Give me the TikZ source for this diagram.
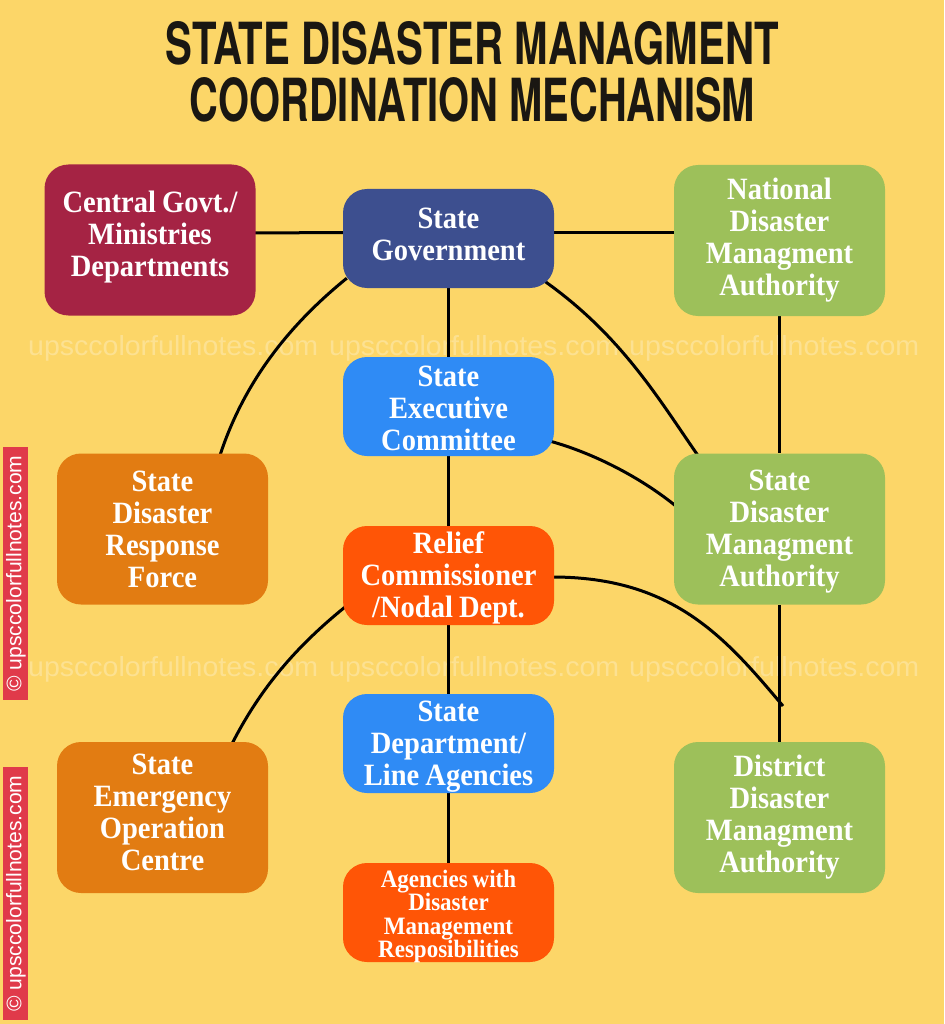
\documentclass[tikz,border=0pt]{standalone}
\usepackage{fontspec}
\usepackage{graphicx}
\newfontfamily\boxfont[FakeStretch=0.92]{Liberation Serif}
\newfontfamily\titlefont{TeX Gyre Heros}
\newfontfamily\wmfont{Liberation Sans}
\usetikzlibrary{calc}
\pgfdeclarelayer{back}
\pgfdeclarelayer{lines}
\pgfsetlayers{back,lines,main}
\definecolor{bgyellow}{HTML}{FCD668}
\definecolor{crimson}{HTML}{A52344}
\definecolor{navy}{HTML}{3D4F8F}
\definecolor{olive}{HTML}{9DC05A}
\definecolor{skyblue}{HTML}{2F8BF5}
\definecolor{amber}{HTML}{E27C12}
\definecolor{redorange}{HTML}{FF5506}
\definecolor{stripred}{HTML}{E03A4A}
\definecolor{titleink}{HTML}{1A1712}
\newcommand{\liftby}[2]{\raisebox{#1}[\height][\depth]{\parbox{205pt}{\centering\spaceskip=0.2em\relax #2}}}
\begin{document}
\begin{tikzpicture}[x=1pt,y=-1pt,
  box/.style={rectangle, rounded corners=24pt, minimum width=211pt, text width=205pt,
    align=center, inner sep=0pt, text=white,
    font=\boxfont\bfseries\fontsize{31}{32}\selectfont},
  shortbox/.style={box, minimum height=99pt},
  tallbox/.style={box, minimum height=151pt},
  smalltext/.style={font=\boxfont\bfseries\fontsize{25}{23.5}\selectfont},
  conn/.style={line width=3pt, black},
  wmark/.style={anchor=base west, inner sep=0pt, text=white, text opacity=0.28},
  strip/.style={fill=stripred, draw=none},
  striptext/.style={rotate=90, inner sep=0pt, text=white}
]
\useasboundingbox (0,0) rectangle (944,1024);
\begin{pgfonlayer}{back}
  \fill[bgyellow] (0,0) rectangle (944,1024);
  \foreach \yy in {355,676}{
    \foreach \xx in {28,329,629}{
      \node[wmark] at (\xx,\yy) {\resizebox{290pt}{20pt}{\wmfont upsccolorfullnotes.com}};
    }
  }
\end{pgfonlayer}

% title
\node[inner sep=0pt, text=titleink] (t1) at (472,43.5) {\resizebox{613pt}{43pt}{\titlefont\bfseries STATE DISASTER MANAGMENT}};
\node[inner sep=0pt, text=titleink] (t2) at (472.5,100) {\resizebox{565pt}{44pt}{\titlefont\bfseries COORDINATION MECHANISM}};

% boxes
\node[tallbox, fill=crimson] (cg) at (150,240) {\liftby{3pt}{Central Govt./\\Ministries\\Departments}};
\node[shortbox, fill=navy] (sg) at (448.5,238.5) {\liftby{4pt}{State\\Government}};
\node[tallbox, fill=olive] (nd) at (779.5,240.5) {\liftby{0pt}{National\\Disaster\\Managment\\Authority}};
\node[shortbox, fill=skyblue] (sec) at (448.5,406.5) {\liftby{-2pt}{State\\Executive\\Committee}};
\node[tallbox, fill=amber] (sdrf) at (162.5,529) {\liftby{0pt}{State\\Disaster\\Response\\Force}};
\node[tallbox, fill=olive] (sdma) at (779.5,529) {\liftby{-3pt}{State\\Disaster\\Managment\\Authority}};
\node[shortbox, fill=redorange] (rc) at (448.5,575.5) {\liftby{-2pt}{Relief\\Commissioner\\/Nodal Dept.}};
\node[shortbox, fill=skyblue] (sd) at (448.5,743.5) {\liftby{-3pt}{State\\Department/\\Line Agencies}};
\node[tallbox, fill=amber] (seoc) at (162.5,817.5) {\liftby{5pt}{State\\Emergency\\Operation\\Centre}};
\node[tallbox, fill=olive] (ddma) at (779.5,817.5) {\liftby{0pt}{District\\Disaster\\Managment\\Authority}};
\node[shortbox, fill=redorange, smalltext] (ag) at (448.5,912.5) {\liftby{-4pt}{Agencies with\\Disaster\\Management\\Resposibilities}};

\coordinate (j) at (783,706);

% side strips
\fill[strip] (3,447) rectangle (28,700);
\fill[strip] (3,767) rectangle (28,1020);
\node[striptext] (s1) at (16,573.5) {\resizebox{236pt}{!}{\wmfont \textcopyright\ upsccolorfullnotes.com}};
\node[striptext] (s2) at (16,893.5) {\resizebox{236pt}{!}{\wmfont \textcopyright\ upsccolorfullnotes.com}};

\begin{pgfonlayer}{lines}
  \draw[conn] ($(cg.east)+(-2,-7)$) -- ($(sg.west)+(2,-6)$);
  \draw[conn] ($(sg.east)+(-2,-6)$) -- ($(nd.west)+(2,-8)$);
  \draw[conn] (sg.south) -- (sec.north);
  \draw[conn] (sec.south) -- (rc.north);
  \draw[conn] (rc.south) -- (sd.north);
  \draw[conn] (sd.south) -- (ag.north);
  \draw[conn] (nd.south) -- (sdma.north);
  \draw[conn] (sdma.south) -- (ddma.north);
  % curves
  \draw[conn] ($(sg.south west)+(4,-10)$) .. controls (289,325) and (244,382) .. ($(sdrf.north)+(57.5,2)$);
  \draw[conn] ($(sg.south east)+(-11,-8)$) .. controls (621,335) and (658,398) .. ($(sdma.north west)+(24,2)$);
  \draw[conn] ($(sec.south east)+(-4,-15)$) .. controls (593,453) and (640,477) .. ($(sdma.west)+(2,-23)$);
  \draw[conn] ($(rc.east)+(-2,1.5)$) .. controls (673,577) and (725,637) .. (j);
  \draw[conn] ($(rc.south west)+(2,-18)$) .. controls (297,646) and (261,687) .. ($(seoc.north)+(69.5,2)$);
\end{pgfonlayer}
\end{tikzpicture}
\end{document}
